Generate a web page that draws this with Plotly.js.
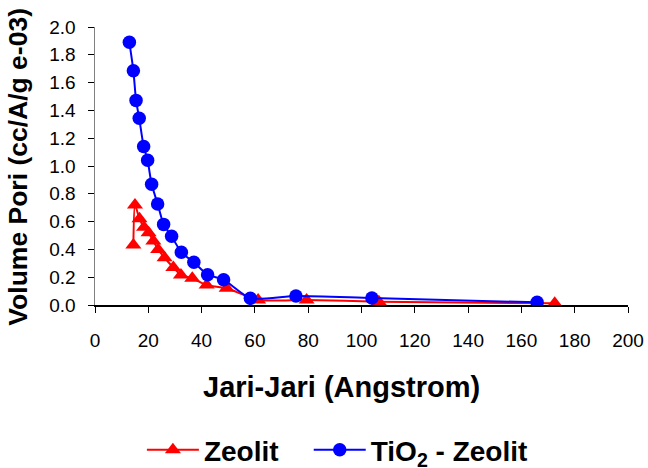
<!DOCTYPE html>
<html>
<head>
<meta charset="utf-8">
<script src="https://cdn.plot.ly/plotly-3.0.1.min.js"></script>
<style>html,body{margin:0;padding:0;background:#fff;}#chart{width:648px;height:468px;}</style>
</head>
<body>
<div id="chart"></div>
<script>
// Zeolit series (radius in Angstrom, pore volume in cc/A/g e-03)
var zeolitX = [14.4, 15.0, 16.7, 18.4, 20.1, 21.9, 23.7, 26.1, 29.4, 32.25, 36.5, 41.9, 49.4, 61.2, 79.4, 106.5, 172.5];
var zeolitY = [0.432, 0.72, 0.62, 0.56, 0.52, 0.46, 0.40, 0.34, 0.27, 0.216, 0.192, 0.144, 0.12, 0.036, 0.036, 0.024, 0.012];
// TiO2 - Zeolit series
var tioX = [12.9, 14.4, 15.4, 16.6, 18.25, 19.75, 21.25, 23.5, 25.75, 28.75, 32.4, 37.1, 42.25, 48.25, 58.3, 75.4, 103.9, 165.9];
var tioY = [1.89, 1.686, 1.472, 1.343, 1.141, 1.041, 0.868, 0.727, 0.580, 0.494, 0.379, 0.307, 0.218, 0.182, 0.048, 0.065, 0.050, 0.019];
var seriesNames = ['Zeolit', 'TiO<sub>2</sub> - Zeolit'];
var xTitle = 'Jari-Jari (Angstrom)';
var yTitle = 'Volume Pori (cc/A/g e-03)';

var font = 'Arial, "Liberation Sans", sans-serif';
var legendFont = {family: font, size: 28, color: '#000', weight: 'bold'};
var traces = [
  {x: zeolitX, y: zeolitY, name: seriesNames[0], type: 'scatter', mode: 'lines+markers', legend: 'legend',
   line: {color: '#ff0000', width: 2, shape: 'spline', smoothing: 0.6},
   marker: {symbol: 'triangle-up', size: 14, color: '#ff0000'}},
  {x: tioX, y: tioY, name: seriesNames[1], type: 'scatter', mode: 'lines+markers', legend: 'legend2',
   line: {color: '#0000ff', width: 2, shape: 'spline', smoothing: 0.6},
   marker: {symbol: 'circle', size: 13.5, color: '#0000ff'}}
];
var layout = {
  width: 648, height: 468,
  margin: {l: 95, r: 20, t: 27, b: 163, autoexpand: false},
  paper_bgcolor: '#fff', plot_bgcolor: '#fff',
  font: {family: font, color: '#000'},
  showlegend: true,
  legend: {orientation: 'h', x: 0.088, xanchor: 'left', y: -0.432, yanchor: 'top',
           itemwidth: 52, font: legendFont},
  legend2: {orientation: 'h', x: 0.401, xanchor: 'left', y: -0.432, yanchor: 'top',
           itemwidth: 52, font: legendFont},
  annotations: [
    {text: '<b>' + xTitle + '</b>', xref: 'paper', yref: 'paper', x: 0.463, y: -0.295,
     xanchor: 'center', yanchor: 'middle', showarrow: false,
     font: {size: 29, family: font, color: '#000'}},
    {text: '<b>' + yTitle + '</b>', xref: 'paper', yref: 'paper', x: -0.1435, y: 0.496,
     xanchor: 'center', yanchor: 'middle', textangle: -90, showarrow: false,
     font: {size: 26.5, family: font, color: '#000'}}
  ],
  xaxis: {range: [0, 200], dtick: 20, tick0: 0, showgrid: false, zeroline: false,
          showline: true, linecolor: '#000', linewidth: 1.5,
          ticks: 'outside', ticklen: 6, tickcolor: '#000', ticklabelstandoff: 12,
          tickfont: {size: 19, family: font}},
  yaxis: {range: [0, 2.0], dtick: 0.2, tick0: 0, tickformat: '.1f', showgrid: false, zeroline: false,
          showline: true, linecolor: '#808080', linewidth: 1.5,
          ticks: 'outside', ticklen: 6, tickcolor: '#000', ticklabelstandoff: 8,
          tickfont: {size: 19, family: font}}
};
Plotly.newPlot('chart', traces, layout, {displayModeBar: false, staticPlot: true});
</script>
</body>
</html>
